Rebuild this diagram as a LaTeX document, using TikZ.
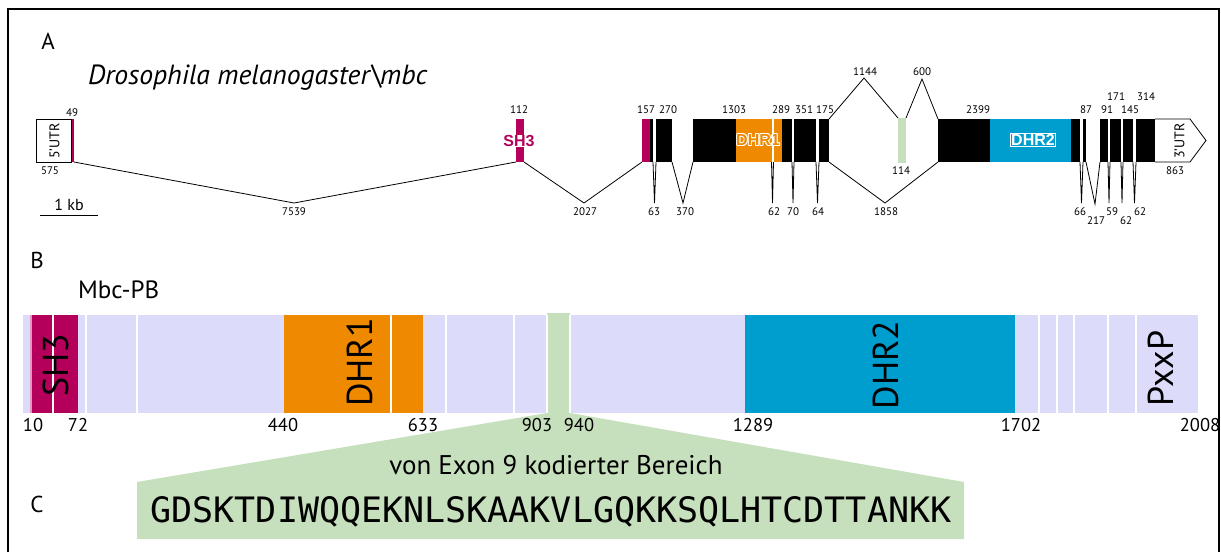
\documentclass[tikz,border=0pt]{standalone}
\usepackage{graphicx}
\usepackage{fontspec}
\setmainfont{PT Sans}
\newfontfamily\labelfont{Liberation Sans}
\newfontfamily\seqfont{DejaVu Sans Mono}
\definecolor{mag}{RGB}{180,0,90}
\definecolor{dorange}{RGB}{238,137,0}
\definecolor{dblue}{RGB}{0,158,206}
\definecolor{lgreen}{RGB}{198,223,188}
\definecolor{lav}{RGB}{220,220,250}
\begin{document}
\begin{tikzpicture}[x=1pt,y=-1pt,
  exonst/.style={inner sep=0pt,outer sep=0pt,minimum height=43pt,draw=none,anchor=north west,fill=black},
  intron/.style={draw=black,line width=0.8pt},
  gnum/.style={inner sep=0pt,font=\fontsize{11}{11}\selectfont},
  pnum/.style={inner sep=0pt,font=\fontsize{18.5}{18.5}\selectfont},
  panel/.style={inner sep=0pt,font=\fontsize{23}{23}\selectfont},
  gdom/.style={inner sep=0pt,font=\labelfont\bfseries\fontsize{16}{16}\selectfont},
  pdom/.style={inner sep=0pt,font=\fontsize{36}{36}\selectfont},
  utrlbl/.style={inner sep=0pt,font=\fontsize{14}{14}\selectfont},
  cut/.style={draw=white,line width=1.3pt},
]
\useasboundingbox (0,0) rectangle (1221,552);
% outer frame
\draw[line width=2pt] (8,552) |- (1219,9) -- (1219,552);

% panel letters and titles
\node[panel] (pA) at (48,41) {A};
\node[panel] (pB) at (37,260) {B};
\node[panel] (pC) at (37,504) {C};
\node[inner sep=0pt,anchor=west,font=\fontsize{27.7}{27.7}\selectfont] (title) at (88,78) {\itshape Drosophila melanogaster\textbackslash mbc};
\node[inner sep=0pt,anchor=west,font=\fontsize{25}{25}\selectfont] (prot) at (78,290) {Mbc-PB};

% ---------- gene model ----------
\node[exonst,fill=white,draw=black,line width=0.8pt,minimum width=35pt] (utr5) at (36,119) {};
\node[utrlbl] (utr5l) at (54.5,141) {\rotatebox{90}{5'UTR}};
\node[exonst,fill=mag,minimum width=2pt] (ex1) at (72,119) {};
\node[exonst,fill=mag,minimum width=8pt] (ex2) at (516,119) {};
\node[exonst,minimum width=11pt] (ex3) at (642,119) {};
\fill[mag] (642,119) rectangle (650,162);
\node[exonst,minimum width=16pt] (ex4) at (656,119) {};
\node[exonst,minimum width=78.5pt] (ex5) at (693,119) {};
\fill[dorange] (736,119) rectangle (771.5,162);
\node[exonst,minimum width=18.5pt] (ex6) at (773.5,119) {};
\fill[dorange] (773.5,119) rectangle (782,162);
\node[exonst,minimum width=22pt] (ex7) at (794,119) {};
\node[exonst,minimum width=10pt] (ex8) at (819,119) {};
\node[exonst,fill=lgreen,minimum width=8pt,minimum height=45pt] (ex9) at (898,118) {};
\node[exonst,minimum width=142pt] (ex10) at (938,119) {};
\fill[dblue] (990,119) rectangle (1071,162);
\node[exonst,minimum width=3pt] (ex11) at (1083,119) {};
\node[exonst,minimum width=8pt] (ex12) at (1100,119) {};
\node[exonst,minimum width=11pt] (ex13) at (1110,119) {};
\node[exonst,minimum width=10pt] (ex14) at (1123,119) {};
\node[exonst,minimum width=19pt] (ex15) at (1136,119) {};
\coordinate (utr3) at (1155,119);
\draw[fill=white,line width=0.8pt] (utr3) -- (1190,119) -- (1206,140.5) -- (1190,162) -- (1155,162);
\node[utrlbl] (utr3l) at (1179.5,141) {\rotatebox{90}{3'UTR}};

% introns
\draw[intron] (ex1.south east) -- (294,203) -- (ex2.south west);
\draw[intron] (ex2.south east) -- (584,203) -- (ex3.south west);
\draw[intron] (ex3.south east) -- (654.5,203) -- (ex4.south west);
\draw[intron] (ex4.south east) -- (683,203) -- (ex5.south west);
\draw[intron] (ex5.south east) -- (772.5,203) -- (ex6.south west);
\draw[intron] (ex6.south east) -- (793,203) -- (ex7.south west);
\draw[intron] (ex7.south east) -- (817.5,203) -- (ex8.south west);
\draw[intron] (ex8.north east) -- (864,78) -- (ex9.north west);
\draw[intron] (ex9.north east) -- (922,79) -- (ex10.north west);
\draw[intron] (ex8.south east) -- (885,203) -- (ex10.south west);
\draw[intron] (ex10.south east) -- (1081.5,203) -- (ex11.south west);
\draw[intron] (ex11.south east) -- (1095,204) -- (ex12.south west);
\draw[intron] (ex12.south east) -- (1109,203) -- (ex13.south west);
\draw[intron] (ex13.south east) -- (1122,203) -- (ex14.south west);
\draw[intron] (ex14.south east) -- (1134.5,203) -- (ex15.south west);

% domain labels on the gene
\node[gdom,fill=white,inner sep=0.6pt,text=mag] (gsh3) at (519,141) {SH3};
\foreach \dx/\dy [count=\i] in {-0.9/0,0.9/0,0/-0.9,0/0.9,-0.65/-0.65,0.65/0.65,-0.65/0.65,0.65/-0.65}
  \node[gdom,text=white,xshift=\dx pt,yshift=\dy pt] (gh\i) at (758,140) {DHR1};
\node[gdom,text=dorange] (gdhr1) at (758,140) {DHR1};
\draw[draw=white,line width=0.8pt] (772.5,119) -- (772.5,162);
\node[gdom,text=white,draw=white,line width=0.6pt,inner sep=1pt] (gdhr2) at (1033,140) {DHR2};

% exon and intron lengths
\foreach \t/\x/\y [count=\i] in {49/72/113,112/519/110,157/646/110,270/668/110,1303/734/110,289/781/110,351/804/110,175/825/110,2399/978/110,87/1086/110,91/1107/110,145/1130/110,171/1116/97,314/1146/97,1144/865/72,600/922/72,7539/294/212,2027/585/212,63/654/212,370/685/212,62/774/212,70/793/212,64/818/212,1858/886/212,66/1080/212,59/1112/212,62/1140/212,217/1096/221,62/1126/221,575/50/171,114/901/171,863/1175/171}
  \node[gnum] (gl\i) at (\x,\y) {\t};

% scale bar
\draw[line width=1pt] (40,215) -- (98,215);
\node[inner sep=0pt,font=\fontsize{16}{16}\selectfont] (kb) at (69,205) {1 kb};

% ---------- protein ----------
\fill[lav] (23,315) rectangle (1198,413);
\fill[mag] (30,315) rectangle (78,413);
\fill[dorange] (284,315) rectangle (423,413);
\fill[dblue] (745,315) rectangle (1015,413);
\fill[lgreen] (547,313) rectangle (570,413);
\fill[lgreen] (547,413) -- (570,413) -- (964,482) -- (964,539) -- (137,539) -- (137,482) -- cycle;
\draw[cut,draw opacity=0.6] (31,315) -- (31,413);
\foreach \x in {53,86,137,391,446,514,547,570,1039,1057,1074,1108,1136}
  \draw[cut] (\x,315) -- (\x,413);

\node[pdom] (psh3) at (56,365) {\rotatebox{90}{SH3}};
\node[pdom] (pdhr1) at (360,362.5) {\rotatebox{90}{DHR1}};
\node[pdom] (pdhr2) at (885.5,365) {\rotatebox{90}{DHR2}};
\node[pdom] (ppxxp) at (1160.5,368.5) {\rotatebox{90}{PxxP}};

\foreach \t/\x [count=\i] in {10/33,72/78,440/283,633/423,903/537,940/579,1289/753,1702/1021,2008/1200}
  \node[pnum] (pl\i) at (\x,425) {\t};

% exon 9 encoded region
\node[inner sep=0pt,font=\fontsize{27}{27}\selectfont] (ex9t) at (556,465) {von Exon 9 kodierter Bereich};
\node[inner sep=0pt,font=\seqfont\fontsize{35}{35}\selectfont] (seq) at (551,512) {GDSKTDIWQQEKNLSKAAKVLGQKKSQLHTCDTTANKK};
\end{tikzpicture}
\end{document}
